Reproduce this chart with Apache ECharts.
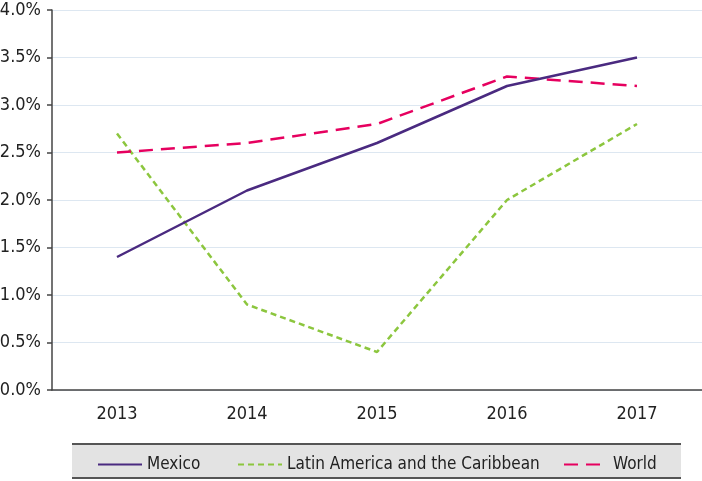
<!DOCTYPE html>
<html>
<head>
<meta charset="utf-8">
<script src="https://cdn.jsdelivr.net/npm/echarts@6/dist/echarts.min.js"></script>
<style>
  html, body { margin: 0; padding: 0; background: #fff; }
  #chart { width: 702px; height: 481px; }
</style>
</head>
<body>
<div id="chart"></div>
<script>
// 数据
const years = ['2013', '2014', '2015', '2016', '2017'];
const mexico = [1.4, 2.1, 2.6, 3.2, 3.5];
const latinAmerica = [2.7, 0.9, 0.4, 2.0, 2.8];
const world = [2.5, 2.6, 2.8, 3.3, 3.2];

const FONT = '"Liberation Sans Narrow", "DejaVu Sans Condensed", sans-serif';

const chart = echarts.init(document.getElementById('chart'));

const legendText = { color: '#222', fontSize: 17, fontFamily: FONT };
const hideDot = { opacity: 0 };

const option = {
    animation: false,
    grid: { left: 52, right: 0, top: 10, bottom: 91, containLabel: false, outerBoundsMode: 'none' },
    graphic: [{
        type: 'rect',
        shape: { x: 72, y: 444, width: 609, height: 34 },
        style: { fill: '#e3e3e3', stroke: null },
        z: 0
    }, {
        type: 'line',
        shape: { x1: 72, y1: 444, x2: 681, y2: 444 },
        style: { stroke: '#555', lineWidth: 2 }
    }, {
        type: 'line',
        shape: { x1: 72, y1: 478, x2: 681, y2: 478 },
        style: { stroke: '#555', lineWidth: 2 }
    }],
    legend: [{
        data: ['Mexico'],
        left: 92, top: 451,
        itemWidth: 44, itemHeight: 14, itemGap: 0,
        itemStyle: hideDot,
        textStyle: legendText
    }, {
        data: ['Latin America and the Caribbean'],
        left: 232, top: 451,
        itemWidth: 44, itemHeight: 14,
        itemStyle: hideDot,
        textStyle: legendText
    }, {
        data: ['World'],
        left: 558, top: 451,
        itemWidth: 44, itemHeight: 14,
        itemStyle: hideDot,
        textStyle: legendText
    }],
    xAxis: {
        type: 'category',
        data: years,
        boundaryGap: true,
        axisLine: { lineStyle: { color: '#444', width: 1.5 } },
        axisTick: { alignWithLabel: true, length: 7, lineStyle: { color: '#444', width: 1.5 } },
        axisLabel: { color: '#222', fontSize: 18, fontFamily: FONT, margin: 15 }
    },
    yAxis: {
        type: 'value',
        min: 0, max: 4, interval: 0.5,
        axisLine: { show: true, lineStyle: { color: '#444', width: 1.5 } },
        axisTick: { show: true, length: 5, inside: false, lineStyle: { color: '#444', width: 1.5 } },
        axisLabel: {
            color: '#222', fontSize: 18, fontFamily: FONT, margin: 11,
            formatter: v => v.toFixed(1) + '%'
        },
        splitLine: { lineStyle: { color: '#dde7f1', width: 1 } }
    },
    series: [{
        name: 'Mexico',
        type: 'line',
        data: mexico,
        symbol: 'none',
        lineStyle: { color: '#4a2a80', width: 2.5 },
        itemStyle: { color: '#4a2a80' },
        z: 3
    }, {
        name: 'Latin America and the Caribbean',
        type: 'line',
        data: latinAmerica,
        symbol: 'none',
        lineStyle: { color: '#8cc63e', width: 2.5, type: [6, 4] },
        itemStyle: { color: '#8cc63e' },
        z: 2
    }, {
        name: 'World',
        type: 'line',
        data: world,
        symbol: 'none',
        lineStyle: { color: '#e6005f', width: 2.5, type: [14, 8] },
        itemStyle: { color: '#e6005f' },
        z: 2
    }]
};

chart.setOption(option);

window.addEventListener('resize', () => {
    chart.resize();
});
</script>
</body>
</html>
